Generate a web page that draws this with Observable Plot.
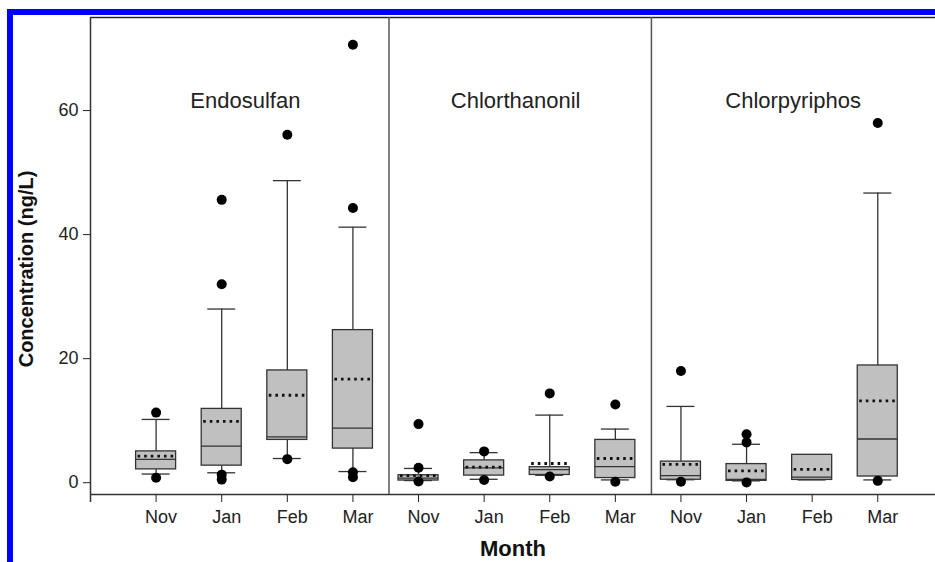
<!DOCTYPE html>
<html>
<head>
<meta charset="utf-8">
<script src="https://cdn.jsdelivr.net/npm/d3@7"></script>
<script src="https://cdn.jsdelivr.net/npm/@observablehq/plot@0.6"></script>
<style>
  html, body { margin: 0; padding: 0; background: #fff; overflow: hidden; }
  #wrap { position: relative; width: 935px; height: 562px; }
  #wrap svg { position: absolute; left: 0; top: 0; }
  #border { position: absolute; left: 7px; top: 9px; width: 928px; height: 553px;
            border-top: 6px solid #0000ff; border-left: 6px solid #0000ff; box-sizing: border-box; pointer-events: none; }
</style>
</head>
<body>
<div id="wrap"><div id="border"></div></div>
<script>
// ---- data ----
const compounds = ["Endosulfan", "Chlorthanonil", "Chlorpyriphos"];
const months = ["Nov", "Jan", "Feb", "Mar"];
// 12 boxes: compound x month (in order)
const whiskerLow  = [1.4, 1.6, 3.9, 1.8,   0.35, 0.55, 1.2, 0.45,  0.48, 0.3, 0.45, 0.45];
const q1          = [2.15, 2.75, 6.9, 5.5, 0.35, 1.15, 1.25, 0.75, 0.48, 0.3, 0.45, 1.0];
const median      = [3.75, 5.9, 7.4, 8.8,  0.75, 2.4, 2.1, 2.6,    1.15, 0.55, 0.9, 7.05];
const q3          = [5.05, 11.9, 18.1, 24.6, 1.2, 3.6, 2.5, 6.9,   3.4, 3.0, 4.5, 18.9];
const whiskerHigh = [10.2, 28.0, 48.7, 41.2, 2.3, 4.85, 10.9, 8.65, 12.3, 6.2, 4.5, 46.7];
const mean        = [4.3, 9.9, 14.1, 16.7, 1.15, 2.5, 3.1, 3.9,    2.95, 1.9, 2.15, 13.2];
// outliers: [box index, value]
const outliers = [
  [0, 11.3], [0, 0.8],
  [1, 32.0], [1, 45.6], [1, 1.3], [1, 0.5],
  [2, 56.1], [2, 3.8],
  [3, 70.6], [3, 44.3], [3, 1.7], [3, 0.9],
  [4, 9.45], [4, 2.4], [4, 0.2],
  [5, 5.05], [5, 0.45],
  [6, 14.4], [6, 1.0],
  [7, 12.6], [7, 0.15],
  [8, 18.0], [8, 0.15],
  [9, 7.8], [9, 6.5], [9, 0.05],
  [11, 58.0], [11, 0.3]
];
const yTicks = [0, 20, 40, 60];

// ---- build tables ----
const boxes = [];
compounds.forEach((c, ci) => months.forEach((m, mi) => {
  const i = ci * 4 + mi;
  boxes.push({compound: c, month: m, pos: i + 1,
    lo: whiskerLow[i], q1: q1[i], med: median[i], q3: q3[i], hi: whiskerHigh[i], mean: mean[i]});
}));
const outlierData = outliers.map(([i, v]) => ({pos: i + 1, value: v}));
// panel title anchor: panel centre, nudged like the reference
const titleNudge = [-0.14, -0.02, 0.21];
const panels = compounds.map((c, ci) => ({name: c, pos: ci * 4 + 2.5 + titleNudge[ci]}));
const dividers = [4.55, 8.55];

const yMin = -1.9, yMax = 75, xMax = 12.88;
const bw = 0.305, cw = 0.213;
const font = "'Liberation Sans', Arial, Helvetica, sans-serif";

const chart = Plot.plot({
  width: 935,
  height: 562,
  marginLeft: 90,
  marginRight: 0,
  marginTop: 17,
  marginBottom: 68,
  style: {fontFamily: font, fontSize: "18px", color: "#222", background: "transparent", overflow: "visible"},
  x: {domain: [0, xMax], ticks: boxes.map(d => d.pos), tickFormat: () => "", tickSize: 8, label: null},
  y: {domain: [yMin, yMax], ticks: yTicks, tickSize: 7, tickPadding: 5, label: null},
  marks: [
    // frame pieces
    Plot.ruleY([yMax], {stroke: "#222", strokeWidth: 1.5}),
    Plot.ruleY([yMin], {stroke: "#333", strokeWidth: 1.5}),
    Plot.ruleX([0], {y1: -3.2, y2: yMax, stroke: "#333", strokeWidth: 1.5}),
    Plot.ruleX(dividers, {y1: yMin, y2: yMax, stroke: "#555", strokeWidth: 1.5}),
    // whiskers
    Plot.ruleX(boxes, {x: "pos", y1: "q3", y2: "hi", stroke: "#333", strokeWidth: 1.3}),
    Plot.ruleX(boxes, {x: "pos", y1: "lo", y2: "q1", stroke: "#333", strokeWidth: 1.3}),
    Plot.ruleY(boxes, {y: "hi", x1: d => d.pos - cw, x2: d => d.pos + cw, stroke: "#333", strokeWidth: 1.3}),
    Plot.ruleY(boxes, {y: "lo", x1: d => d.pos - cw, x2: d => d.pos + cw, stroke: "#333", strokeWidth: 1.3}),
    // boxes
    Plot.rect(boxes, {x1: d => d.pos - bw, x2: d => d.pos + bw, y1: "q1", y2: "q3",
      fill: "#c0c0c0", stroke: "#333", strokeWidth: 1.3}),
    Plot.ruleY(boxes, {y: "med", x1: d => d.pos - bw, x2: d => d.pos + bw, stroke: "#333", strokeWidth: 1.3}),
    Plot.ruleY(boxes, {y: "mean", x1: d => d.pos - bw + 0.03, x2: d => d.pos + bw, stroke: "#111",
      strokeWidth: 2.8, strokeDasharray: "2.6,4"}),
    // outliers
    Plot.dot(outlierData, {x: "pos", y: "value", r: 5, fill: "#000", stroke: "none"}),
    // month labels
    Plot.text(boxes, {x: "pos", text: "month", frameAnchor: "bottom", dy: 28, dx: 5,
      fontSize: 18, fill: "#222", fontFamily: font}),
    // panel titles
    Plot.text(panels, {x: "pos", y: () => 61.6, text: "name",
      fontSize: 22, fill: "#222", fontFamily: font}),
    // axis titles
    Plot.text(["Concentration (ng/L)"], {frameAnchor: "left", rotate: -90, dx: -64, dy: 13,
      textAnchor: "middle", fontSize: 20, fontWeight: "bold", fill: "#111", fontFamily: font}),
    Plot.text(["Month"], {frameAnchor: "bottom", dy: 61, lineAnchor: "bottom",
      fontSize: 22, fontWeight: "bold", fill: "#111", fontFamily: font})
  ]
});
document.getElementById("wrap").prepend(chart);
</script>
</body>
</html>
